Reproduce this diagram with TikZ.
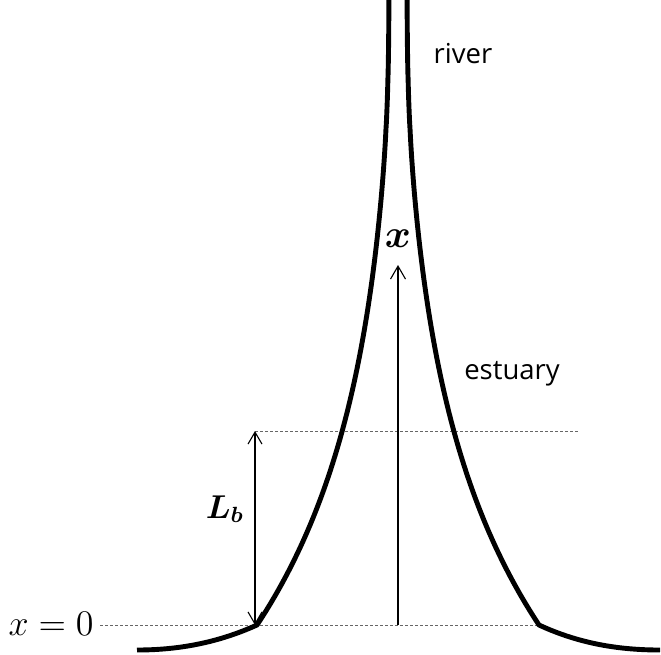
\documentclass[tikz,border=0pt]{standalone}
\usepackage{amsmath,bm}
\usepackage{fontspec}
\newfontfamily\labelfont{Open Sans}
\usetikzlibrary{arrows.meta}
\begin{document}
\begin{tikzpicture}[x=1pt,y=-1pt,
  declare function={ff(\t)=-4.4+145.4*exp((\t-625)/220); hw(\t)=20*((0.45)^4+(ff(\t)/20)^4)^0.25;},
  bank/.style={line width=4.9pt,line join=round},
  guide/.style={densely dashed,gray!80!black,line width=0.8pt},
  dimarrow/.style={line width=1.1pt,-{Straight Barb[length=13pt,width=15pt,line width=1.1pt]}},
  dimarrows/.style={line width=1.1pt,{Straight Barb[length=12pt,width=14pt,line width=1.1pt]}-{Straight Barb[length=12pt,width=14pt,line width=1.1pt]}},
  sanslabel/.style={font=\labelfont\fontsize{27.5}{32}\selectfont,inner sep=0pt,anchor=base},
  mathlabel/.style={font=\fontsize{12}{14}\selectfont,inner sep=0pt}]
\useasboundingbox (0,0) rectangle (661,654);
% key points
\coordinate (LC) at (257,625);
\coordinate (RC) at (539,625);
\coordinate (LE) at (137,650);
\coordinate (RE) at (660,650);
\coordinate (DL) at (100,625);
\coordinate (UL) at (255,431);
\coordinate (UR) at (578,431);
\coordinate (LbTop) at (255,431);
\coordinate (LbBot) at (255,625);
\coordinate (XBot) at (398,625);
\coordinate (XTop) at (398,265);
% guides
\draw[guide] (DL) -- (RC);
\draw[guide] (UL) -- (UR);
% banks
\draw[bank] plot[domain=-5:625,samples=90,variable=\t] ({398-hw(\t)},\t)
  .. controls (215,644) and (175,650) .. (LE);
\draw[bank] plot[domain=-5:625,samples=90,variable=\t] ({398+hw(\t)},\t)
  .. controls (580,644) and (620,650) .. (RE);
% arrows
\draw[dimarrows] (LbTop) -- (LbBot);
\draw[dimarrow] (XBot) -- (XTop);
% labels
\node[sanslabel] (river) at (463,63) {river};
\node[sanslabel] (estuary) at (512,379) {estuary};
\node[mathlabel,anchor=base,scale=3.3] (xlab) at (398,247) {$\bm{x}$};
\node[mathlabel,anchor=base,scale=2.75] (Lb) at (225,518) {$\bm{L_b}$};
\node[mathlabel,anchor=base west,scale=3] (x0) at (8,635) {$x=0$};
\end{tikzpicture}
\end{document}
